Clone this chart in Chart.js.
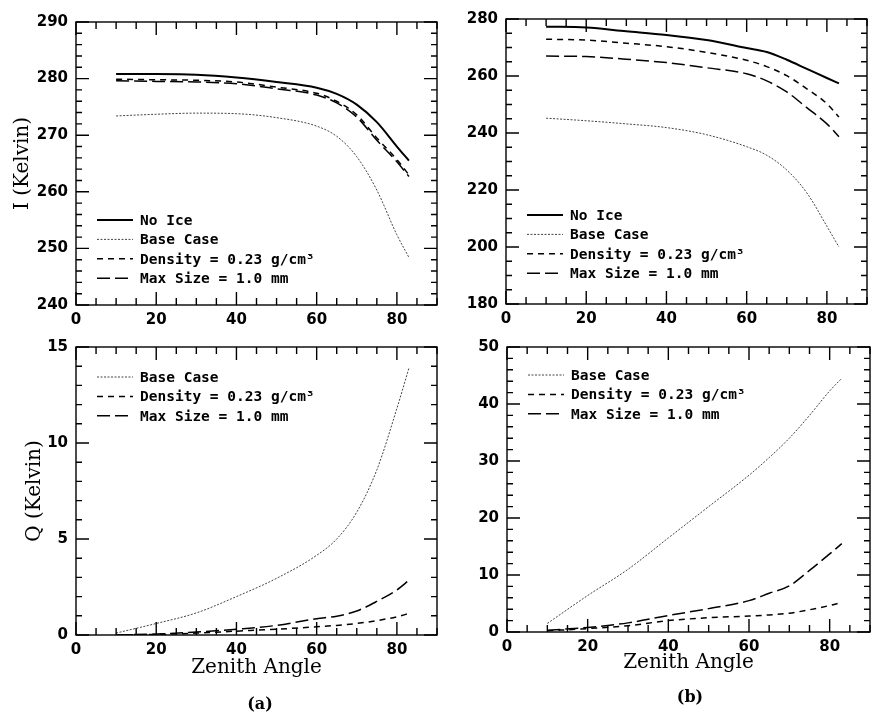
<!DOCTYPE html>
<html>
<head>
<meta charset="utf-8">
<script src="https://cdn.jsdelivr.net/npm/chart.js@4.4.1/dist/chart.umd.min.js"></script>
<style>
  html, body { margin: 0; padding: 0; background: #fff; }
  #wrap { position: relative; width: 873px; height: 713px; overflow: hidden; }
  canvas { position: absolute; }
  .tag { position: absolute; font: bold 16px "DejaVu Serif", serif; color: #000; transform: translate(-50%, -50%); }
</style>
</head>
<body>
<div id="wrap">
  <canvas id="iA" style="left:0px;top:0px" width="440" height="330"></canvas>
  <canvas id="iB" style="left:430px;top:0px" width="443" height="330"></canvas>
  <canvas id="qA" style="left:0px;top:330px" width="440" height="383"></canvas>
  <canvas id="qB" style="left:430px;top:330px" width="443" height="383"></canvas>
  <div class="tag" style="left:260px;top:703px">(a)</div>
  <div class="tag" style="left:690px;top:696px">(b)</div>
</div>
<script>
const zenith = [10, 20, 30, 40, 50, 60, 65, 70, 75, 80, 83];
const xTicks = [0, 20, 40, 60, 80];

// (a) I
const noIceA = [280.8, 280.8, 280.7, 280.2, 279.4, 278.4, 277.3, 275.4, 272.3, 268.0, 265.5];
const baseA  = [273.4, 273.7, 273.9, 273.8, 273.1, 271.6, 269.8, 266.2, 260.3, 252.4, 248.4];
const densA  = [279.9, 279.8, 279.7, 279.4, 278.5, 277.4, 276.0, 273.6, 269.5, 265.7, 263.0];
const maxA   = [279.6, 279.5, 279.4, 279.1, 278.2, 277.1, 275.7, 273.2, 269.1, 265.3, 262.7];
const iTicksA = [240, 250, 260, 270, 280, 290];

// (b) I
const noIceB = [277.3, 277.0, 275.7, 274.4, 272.6, 269.8, 268.4, 265.7, 262.5, 259.3, 257.4];
const baseB  = [245.2, 244.3, 243.2, 241.9, 239.4, 235.2, 232.2, 227.0, 219.0, 207.3, 200.0];
const densB  = [272.9, 272.6, 271.5, 270.3, 268.3, 265.5, 263.3, 260.1, 255.5, 250.3, 245.6];
const maxB   = [267.0, 266.8, 265.9, 264.7, 262.9, 260.8, 258.3, 254.4, 248.9, 243.2, 238.7];
const iTicksB = [180, 200, 220, 240, 260, 280];

// (a) Q
const baseQA = [0.1, 0.6, 1.15, 2.0, 2.95, 4.15, 5.0, 6.4, 8.6, 11.8, 13.9];
const densQA = [0.0, 0.03, 0.1, 0.2, 0.3, 0.43, 0.5, 0.6, 0.75, 0.95, 1.12];
const maxQA  = [0.0, 0.05, 0.15, 0.3, 0.5, 0.85, 0.98, 1.25, 1.75, 2.35, 2.85];
const qTicksA = [0, 5, 10, 15];

// (b) Q
const baseQB = [1.5, 6.4, 11.0, 16.5, 22.0, 27.5, 30.6, 34.0, 38.0, 42.3, 44.5];
const densQB = [0.2, 0.6, 1.1, 2.0, 2.5, 2.8, 3.0, 3.3, 3.9, 4.65, 5.2];
const maxQB  = [0.3, 0.8, 1.6, 2.9, 4.1, 5.5, 6.8, 8.1, 10.8, 13.7, 15.5];
const qTicksB = [0, 10, 20, 30, 40, 50];

const names = { noIce: 'No Ice', base: 'Base Case', dens: 'Density = 0.23 g/cm³', max: 'Max Size = 1.0 mm' };

const looks = {
  noIce: { borderColor: '#000', borderWidth: 2, borderDash: [] },
  base:  { borderColor: '#444', borderWidth: 1, borderDash: [2, 1.5] },
  dens:  { borderColor: '#000', borderWidth: 1.5, borderDash: [6, 5] },
  max:   { borderColor: '#000', borderWidth: 1.5, borderDash: [13, 5] },
};

function series(kind, ys) {
  return Object.assign({
    label: names[kind],
    data: zenith.map((x, i) => ({ x: x, y: ys[i] })),
    pointRadius: 0,
    fill: false,
    cubicInterpolationMode: 'monotone',
  }, looks[kind]);
}

// box with inward ticks on every side
const frameTicks = {
  id: 'frameTicks',
  afterDatasetsDraw(chart, args, o) {
    const { ctx, chartArea: a, scales } = chart;
    const x = scales.x, y = scales.y;
    ctx.save();
    ctx.strokeStyle = '#000';
    ctx.lineWidth = 1.4;
    ctx.strokeRect(a.left, a.top, a.right - a.left, a.bottom - a.top);
    ctx.beginPath();
    const nx = Math.round((x.max - x.min) / o.xMinor);
    for (let k = 0; k <= nx; k++) {
      const v = x.min + k * o.xMinor;
      const px = x.getPixelForValue(v);
      const len = Math.round(v / o.xMinor) % Math.round(o.xMajor / o.xMinor) === 0 ? 13 : 7;
      ctx.moveTo(px, a.bottom); ctx.lineTo(px, a.bottom - len);
      ctx.moveTo(px, a.top); ctx.lineTo(px, a.top + len);
    }
    const ny = Math.round((y.max - y.min) / o.yMinor);
    for (let k = 0; k <= ny; k++) {
      const v = y.min + k * o.yMinor;
      const py = y.getPixelForValue(v);
      const len = Math.round(v / o.yMinor) % Math.round(o.yMajor / o.yMinor) === 0 ? 13 : 6;
      ctx.moveTo(a.left, py); ctx.lineTo(a.left + len, py);
      ctx.moveTo(a.right, py); ctx.lineTo(a.right - len, py);
    }
    ctx.stroke();
    ctx.restore();
  }
};

// legend drawn inside the plot box
const boxLegend = {
  id: 'boxLegend',
  afterDatasetsDraw(chart, args, o) {
    const { ctx, chartArea: a } = chart;
    ctx.save();
    ctx.font = 'bold 14.5px "DejaVu Sans Mono", monospace';
    ctx.textBaseline = 'middle';
    ctx.fillStyle = '#000';
    chart.data.datasets.forEach((ds, i) => {
      const yy = a.top + o.top + i * 19.4;
      ctx.strokeStyle = ds.borderColor;
      ctx.lineWidth = ds.borderWidth;
      ctx.setLineDash(ds.borderDash || []);
      ctx.beginPath();
      ctx.moveTo(a.left + 21, yy);
      ctx.lineTo(a.left + 57, yy);
      ctx.stroke();
      ctx.setLineDash([]);
      ctx.fillText(ds.label, a.left + 64, yy + 1);
    });
    ctx.restore();
  }
};

Chart.defaults.color = '#000';

function panel(id, datasets, p) {
  new Chart(document.getElementById(id), {
    type: 'line',
    data: { datasets: datasets },
    plugins: [frameTicks, boxLegend],
    options: {
      responsive: false,
      animation: false,
      layout: { padding: { left: 0, top: p.top, right: p.right, bottom: 0 } },
      plugins: {
        legend: { display: false },
        tooltip: { enabled: false },
        frameTicks: p.ticks,
        boxLegend: { top: p.legendTop },
      },
      scales: {
        x: {
          type: 'linear', min: 0, max: 90,
          afterBuildTicks: s => { s.ticks = xTicks.map(v => ({ value: v })); },
          afterFit: s => { s.height = p.xHeight; },
          grid: { display: false, drawTicks: false },
          border: { display: false },
          ticks: { padding: 6, font: { family: '"DejaVu Sans", sans-serif', size: 15, weight: 'bold' } },
          title: p.xTitle ? {
            display: true, text: 'Zenith Angle',
            font: { family: '"DejaVu Serif", serif', size: 20 },
            padding: { top: 0, bottom: p.xTitlePad },
          } : { display: false },
        },
        y: {
          type: 'linear', min: p.yMin, max: p.yMax,
          afterBuildTicks: s => { s.ticks = p.yTicks.map(v => ({ value: v })); },
          afterFit: s => { s.width = p.yWidth; },
          grid: { display: false, drawTicks: false },
          border: { display: false },
          ticks: { padding: 8, font: { family: '"DejaVu Sans", sans-serif', size: 15, weight: 'bold' } },
          title: p.yTitle ? {
            display: true, text: p.yTitle,
            font: { family: '"DejaVu Serif", serif', size: 20 },
            padding: { top: p.yTitlePad, bottom: 0 },
          } : { display: false },
        },
      },
    },
  });
}

panel('iA', [series('noIce', noIceA), series('base', baseA), series('dens', densA), series('max', maxA)], {
  top: 22, right: 3, xHeight: 25, yWidth: 76, yMin: 240, yMax: 290, yTicks: iTicksA,
  yTitle: 'I (Kelvin)', yTitlePad: 11, legendTop: 198,
  ticks: { xMinor: 5, xMajor: 20, yMinor: 2, yMajor: 10 },
});

panel('iB', [series('noIce', noIceB), series('base', baseB), series('dens', densB), series('max', maxB)], {
  top: 19, right: 6, xHeight: 26, yWidth: 76, yMin: 180, yMax: 280, yTicks: iTicksB,
  legendTop: 196,
  ticks: { xMinor: 5, xMajor: 20, yMinor: 5, yMajor: 20 },
});

panel('qA', [series('base', baseQA), series('dens', densQA), series('max', maxQA)], {
  top: 17, right: 3, xHeight: 78, yWidth: 76, yMin: 0, yMax: 15, yTicks: qTicksA,
  yTitle: 'Q (Kelvin)', yTitlePad: 23, xTitle: true, xTitlePad: 33, legendTop: 30,
  ticks: { xMinor: 5, xMajor: 20, yMinor: 1, yMajor: 5 },
});

panel('qB', [series('base', baseQB), series('dens', densQB), series('max', maxQB)], {
  top: 15, right: 3, xHeight: 81, yWidth: 77, yMin: 0, yMax: 50, yTicks: qTicksB,
  xTitle: true, xTitlePad: 38, legendTop: 28,
  ticks: { xMinor: 5, xMajor: 20, yMinor: 2, yMajor: 10 },
});
</script>
</body>
</html>
